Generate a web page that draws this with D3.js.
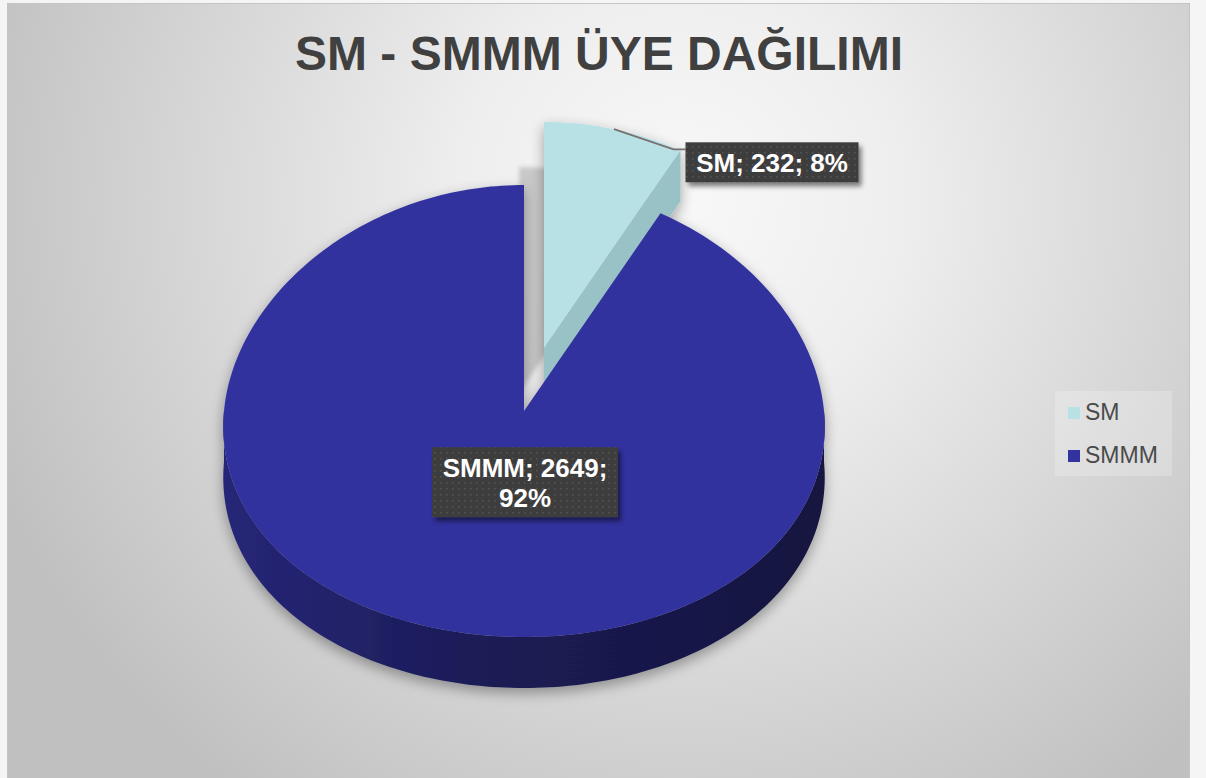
<!DOCTYPE html>
<html>
<head>
<meta charset="utf-8">
<script src="https://cdn.jsdelivr.net/npm/d3@7"></script>
<style>
  html, body { margin: 0; padding: 0; background: #f5f5f5; }
  svg { display: block; font-family: 'Liberation Sans', Arial, sans-serif; }
</style>
</head>
<body>
<div id="chart"></div>
<script>
const title = 'SM - SMMM ÜYE DAĞILIMI';
const categories = ['SM', 'SMMM'];
const values = [232, 2649];
const colors = ['#b8e1e6', '#33339f'];
const sideColors = ['#98c2c5', '#1c1c5a'];

const width = 1206;
const height = 778;
// 3d pie geometry (k = slight perspective narrowing at the back)
const cx = 524, cy = 411, rx = 300, ry = 226, depth = 51, k = 0.07;
const explode = [20, -63];

const svg = d3.select('#chart').append('svg')
  .attr('width', width)
  .attr('height', height);

const defs = svg.append('defs');

const bg = defs.append('radialGradient')
  .attr('id', 'bg')
  .attr('gradientUnits', 'userSpaceOnUse')
  .attr('cx', 680).attr('cy', 200).attr('r', 740);
bg.append('stop').attr('offset', 0).attr('stop-color', '#f8f8f8');
bg.append('stop').attr('offset', 0.3).attr('stop-color', '#eeeeee');
bg.append('stop').attr('offset', 1).attr('stop-color', '#c0c0c0');

const wall = defs.append('linearGradient')
  .attr('id', 'wall')
  .attr('gradientUnits', 'userSpaceOnUse')
  .attr('x1', cx - rx).attr('x2', cx + rx).attr('y1', 0).attr('y2', 0);
wall.append('stop').attr('offset', 0).attr('stop-color', '#262678');
wall.append('stop').attr('offset', 0.45).attr('stop-color', '#1b1b55');
wall.append('stop').attr('offset', 1).attr('stop-color', '#16163f');

const dots = defs.append('pattern')
  .attr('id', 'dots')
  .attr('width', 6).attr('height', 6)
  .attr('patternUnits', 'userSpaceOnUse');
dots.append('rect').attr('width', 6).attr('height', 6).attr('fill', '#3d3d3d');
dots.append('rect').attr('x', 2).attr('y', 2).attr('width', 1.5).attr('height', 1.5).attr('fill', '#575757');

const pieShadow = defs.append('filter').attr('id', 'pieShadow')
  .attr('x', '-20%').attr('y', '-20%').attr('width', '140%').attr('height', '140%');
pieShadow.append('feGaussianBlur').attr('in', 'SourceAlpha').attr('stdDeviation', 7);
pieShadow.append('feOffset').attr('dx', 0).attr('dy', 5).attr('result', 'b');
pieShadow.append('feComponentTransfer').append('feFuncA').attr('type', 'linear').attr('slope', 0.35);
const m1 = pieShadow.append('feMerge');
m1.append('feMergeNode');
m1.append('feMergeNode').attr('in', 'SourceGraphic');

const boxShadow = defs.append('filter').attr('id', 'boxShadow')
  .attr('x', '-20%').attr('y', '-30%').attr('width', '140%').attr('height', '160%');
boxShadow.append('feGaussianBlur').attr('in', 'SourceAlpha').attr('stdDeviation', 2.5);
boxShadow.append('feOffset').attr('dx', 3).attr('dy', 4);
boxShadow.append('feComponentTransfer').append('feFuncA').attr('type', 'linear').attr('slope', 0.5);
const m2 = boxShadow.append('feMerge');
m2.append('feMergeNode');
m2.append('feMergeNode').attr('in', 'SourceGraphic');

const soft = defs.append('filter').attr('id', 'soft');
soft.append('feGaussianBlur').attr('stdDeviation', 2);

// background
svg.append('rect')
  .attr('x', 7.5).attr('y', 3.5)
  .attr('width', 1182).attr('height', 790)
  .attr('fill', 'url(#bg)')
  .attr('stroke', '#c4c4c4');

svg.append('text')
  .attr('x', 599).attr('y', 70)
  .attr('text-anchor', 'middle')
  .attr('font-size', 48)
  .attr('font-weight', 'bold')
  .attr('fill', '#404040')
  .text(title);

const pie = d3.pie().sort(null).startAngle(0).endAngle(2 * Math.PI);
const arcs = pie(values);
const total = d3.sum(values);

function pt(a, off, dz) {
  const s = 1 - k * Math.cos(a);
  return [cx + off[0] + rx * Math.sin(a) * s, cy + off[1] - ry * Math.cos(a) + (dz || 0)];
}
function sample(a0, a1) {
  const n = Math.max(2, Math.ceil((a1 - a0) / 0.02));
  return d3.range(n + 1).map((i) => a0 + (a1 - a0) * i / n);
}
const line = d3.line();

function topPath(d, off) {
  const pts = [[cx + off[0], cy + off[1]]].concat(sample(d.startAngle, d.endAngle).map((a) => pt(a, off)));
  return line(pts) + 'Z';
}
function wallPath(d, off) {
  const a0 = Math.max(d.startAngle, Math.PI / 2);
  const a1 = Math.min(d.endAngle, Math.PI * 1.5);
  if (a1 <= a0) return null;
  const s = sample(a0, a1);
  const pts = s.map((a) => pt(a, off)).concat(s.slice().reverse().map((a) => pt(a, off, depth)));
  return line(pts) + 'Z';
}
function cutPath(d, off) {
  const c = [cx + off[0], cy + off[1]];
  return line([c, pt(d.endAngle, off), pt(d.endAngle, off, depth), [c[0], c[1] + depth]]) + 'Z';
}

const offsets = arcs.map((d, i) => (i === 0 ? explode : [0, 0]));

// shadow of the exploded slice falling into the gap
svg.append('path')
  .attr('d', topPath(arcs[0], [explode[0] - 25, explode[1] + 45]))
  .attr('fill', 'rgba(0,0,0,0.17)')
  .attr('filter', 'url(#soft)');

const body = svg.append('g').attr('filter', 'url(#pieShadow)');

// exploded slice (behind)
const sm = body.append('g');
sm.append('path')
  .attr('d', cutPath(arcs[0], offsets[0]))
  .attr('fill', sideColors[0]);
sm.append('path')
  .attr('d', topPath(arcs[0], offsets[0]))
  .attr('fill', colors[0]);

// main slice
const big = body.append('g');
big.append('path')
  .attr('d', wallPath(arcs[1], offsets[1]))
  .attr('fill', 'url(#wall)');
big.append('path')
  .attr('d', topPath(arcs[1], offsets[1]))
  .attr('fill', colors[1]);

// labels
function labelText(i) {
  return `${categories[i]}; ${values[i]}; ${Math.round(values[i] / total * 100)}%`;
}

// SM label with leader line
const mid0 = (arcs[0].startAngle + arcs[0].endAngle) / 2;
const lp = pt(mid0, offsets[0]);
const outer = pt(arcs[0].endAngle, offsets[0]);
const box0 = { x: outer[0] + 5, y: outer[1] - 8, w: 173, h: 40 };
svg.append('path')
  .attr('d', line([lp, [box0.x - 12, box0.y + 7], [box0.x, box0.y + 7]]))
  .attr('fill', 'none')
  .attr('stroke', '#7a7070')
  .attr('stroke-width', 1.8);
svg.append('rect')
  .attr('x', box0.x).attr('y', box0.y)
  .attr('width', box0.w).attr('height', box0.h)
  .attr('fill', 'url(#dots)')
  .attr('filter', 'url(#boxShadow)');
svg.append('text')
  .attr('x', box0.x + box0.w / 2).attr('y', box0.y + 30)
  .attr('text-anchor', 'middle')
  .attr('font-size', 26).attr('font-weight', 'bold')
  .attr('fill', '#ffffff')
  .text(labelText(0));

// SMMM label inside
const parts = labelText(1).split('; ');
const box1 = { w: 186, h: 70 };
box1.x = cx + 1 - box1.w / 2;
box1.y = cy + ry * 0.16;
svg.append('rect')
  .attr('x', box1.x).attr('y', box1.y)
  .attr('width', box1.w).attr('height', box1.h)
  .attr('fill', 'url(#dots)')
  .attr('filter', 'url(#boxShadow)');
const t1 = svg.append('text')
  .attr('text-anchor', 'middle')
  .attr('font-size', 26).attr('font-weight', 'bold')
  .attr('fill', '#ffffff');
t1.append('tspan').attr('x', box1.x + box1.w / 2).attr('y', box1.y + 30)
  .text(`${parts[0]}; ${parts[1]};`);
t1.append('tspan').attr('x', box1.x + box1.w / 2).attr('y', box1.y + 60)
  .text(parts[2]);

// legend
const legend = svg.append('g').attr('transform', 'translate(1055,391)');
legend.append('rect')
  .attr('width', 117).attr('height', 85)
  .attr('fill', 'rgba(255,255,255,0.22)');
const item = legend.selectAll('g.item')
  .data(categories)
  .join('g')
  .attr('class', 'item')
  .attr('transform', (d, i) => `translate(13,${16 + i * 43})`);
item.append('rect')
  .attr('width', 12).attr('height', 12)
  .attr('fill', (d, i) => colors[i]);
item.append('text')
  .attr('x', 17).attr('y', 13)
  .attr('font-size', 23)
  .attr('fill', '#4a4a4a')
  .text((d) => d);
</script>
</body>
</html>
